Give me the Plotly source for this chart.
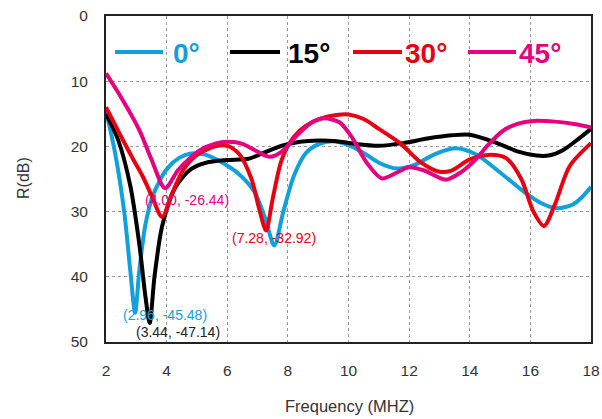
import plotly.graph_objects as go

# ---- data ----
blue_x = [2, 2.3, 2.6, 2.8, 2.96, 3.1, 3.3, 3.55, 4.0, 4.4, 4.8, 5.3, 5.8, 6.4, 6.9, 7.25, 7.55, 7.85, 8.2, 8.6, 9.0, 9.5, 10.0, 10.5, 11.0, 11.6, 12.2, 12.8, 13.5, 14.2, 15.0, 15.8, 16.4, 16.9, 17.4, 17.7, 18]
blue_y = [14.5, 21, 30, 39, 45.5, 39, 32, 27.5, 23.5, 21.8, 21.1, 21.3, 22.4, 24.3, 27, 31, 35.2, 30, 24.5, 21, 19.7, 19.2, 19.8, 21, 22.5, 23.4, 22.8, 21.3, 20.3, 21.2, 24, 27, 28.8, 29.5, 28.9, 27.8, 26.2]

black_x = [2, 2.4, 2.8, 3.1, 3.3, 3.44, 3.6, 3.85, 4.3, 4.8, 5.3, 6.0, 6.7, 7.2, 7.8, 8.4, 9.0, 9.6, 10.2, 11.0, 11.8, 12.6, 13.4, 14.0, 14.8, 15.6, 16.2, 16.6, 17.1, 17.6, 18]
black_y = [15, 19, 26, 35, 43, 47.1, 40, 32.3, 26.2, 23.5, 22.5, 22.1, 21.9, 21, 19.9, 19.3, 19.1, 19.2, 19.6, 19.9, 19.5, 18.8, 18.3, 18.2, 19.3, 20.8, 21.4, 21.4, 20.5, 18.8, 17.3]

red_x = [2, 2.5, 2.9, 3.2, 3.5, 3.85, 4.2, 4.55, 5.0, 5.6, 6.0, 6.4, 6.8, 7.05, 7.28, 7.5, 7.8, 8.2, 8.6, 9.1, 9.6, 10.0, 10.5, 11.0, 11.7, 12.4, 13.0, 13.4, 14.0, 14.6, 15.2, 15.7, 16.1, 16.45, 16.8, 17.3, 18]
red_y = [14, 18.5, 22, 24.5, 27.5, 30.8, 27, 23.6, 21.3, 20, 19.9, 21.2, 25, 29.5, 32.9, 28, 22, 18.5, 16.8, 15.7, 15.2, 15.1, 15.8, 17.3, 19.5, 22.5, 23.9, 23.7, 22, 21.3, 21.8, 25, 30, 32.2, 29, 23, 19.5]

mag_x = [2, 2.5, 3.1, 3.5, 3.95, 4.4, 5.1, 5.6, 6.0, 6.5, 7.0, 7.4, 7.8, 8.3, 8.8, 9.2, 9.7, 10.1, 10.6, 11.1, 11.6, 12.0, 12.5, 13.2, 13.7, 14.2, 14.6, 15.1, 15.6, 16.1, 16.8, 17.5, 18]
mag_y = [8.8, 12.5, 17.5, 22, 26.4, 23.5, 20.6, 19.6, 19.3, 19.6, 20.8, 21.6, 20.8, 18.3, 16.3, 15.7, 16.3, 18.5, 22.5, 24.9, 24, 23.2, 23.7, 25.1, 24, 22, 19.8, 17.6, 16.5, 16.1, 16.2, 16.6, 17.1]

series_names = ["0°", "15°", "30°", "45°"]
colors = ["#12A0DC", "#000000", "#E60012", "#E4007F"]

ann_text = ["(2.96, -45.48)", "(3.44, -47.14)", "(7.28, -32.92)", "(4.00, -26.44)"]
ann_x = [3.95, 4.37, 7.55, 4.67]
ann_y = [45.8, 48.4, 34.0, 28.2]
ann_color = ["#12A0DC", "#222222", "#E60012", "#E4007F"]

x_ticks = [2, 4, 6, 8, 10, 12, 14, 16, 18]
y_ticks = [0, 10, 20, 30, 40, 50]
x_title = "Frequency (MHZ)"
y_title = "R(dB)"

FONT = "Liberation Sans, Arial"
W, H = 602, 419
L, R, T, B = 106, 591, 16, 342

fig = go.Figure()
for xs, ys, c, n in zip([blue_x, black_x, red_x, mag_x], [blue_y, black_y, red_y, mag_y], colors, series_names):
    fig.add_trace(go.Scatter(x=xs, y=ys, mode="lines", name=n,
                             line=dict(color=c, width=4, shape="spline", smoothing=0.8),
                             showlegend=False))

# point annotations
for t, x, y, c in zip(ann_text, ann_x, ann_y, ann_color):
    fig.add_annotation(x=x, y=y, text=t, showarrow=False, xref="x", yref="y",
                       font=dict(family=FONT, size=14, color=c))

def px2paper_x(p):
    return (p - L) / (R - L)
def py2paper_y(p):
    return 1 - (p - T) / (B - T)

# manual legend
leg_line_x0 = [115, 230, 353, 468]
leg_line_x1 = [163, 280, 402, 516]
leg_text_x = [171, 286, 403, 517]
leg_y_line = py2paper_y(52)
leg_y_text = py2paper_y(53)
for x0, x1, tx, c, n in zip(leg_line_x0, leg_line_x1, leg_text_x, colors, series_names):
    fig.add_shape(type="line", xref="paper", yref="paper", x0=px2paper_x(x0), x1=px2paper_x(x1),
                  y0=leg_y_line, y1=leg_y_line, line=dict(color=c, width=4))
    fig.add_annotation(xref="paper", yref="paper", x=px2paper_x(tx), y=leg_y_text, text="<b>%s</b>" % n,
                       showarrow=False, xanchor="left", yanchor="middle",
                       font=dict(family=FONT, size=28, color=c))

# axis titles
fig.add_annotation(xref="paper", yref="paper", x=px2paper_x(349), y=py2paper_y(406), text=x_title,
                   showarrow=False, xanchor="center", yanchor="middle",
                   font=dict(family=FONT, size=16.5, color="#333333"))
fig.add_annotation(xref="paper", yref="paper", x=px2paper_x(23), y=py2paper_y(178), text=y_title,
                   showarrow=False, xanchor="center", yanchor="middle", textangle=-90,
                   font=dict(family=FONT, size=16, color="#333333"))

fig.update_layout(
    width=W, height=H,
    margin=dict(l=L, r=W - R, t=T, b=H - B),
    paper_bgcolor="white", plot_bgcolor="white",
    font=dict(family=FONT, size=15.5, color="#333333"),
)
fig.update_xaxes(range=[2, 18], tickvals=x_ticks, showgrid=True, gridcolor="#999999", griddash="dot",
                 gridwidth=1, showline=True, linecolor="#222222", linewidth=2, mirror=True,
                 ticks="", ticklabelstandoff=13, zeroline=False, automargin=False)
fig.update_yaxes(range=[50, 0], tickvals=y_ticks, showgrid=True, gridcolor="#999999", griddash="dot",
                 gridwidth=1, showline=True, linecolor="#222222", linewidth=2, mirror=True,
                 ticks="", ticklabelstandoff=13, zeroline=False, automargin=False)

fig.write_html("out.html")
